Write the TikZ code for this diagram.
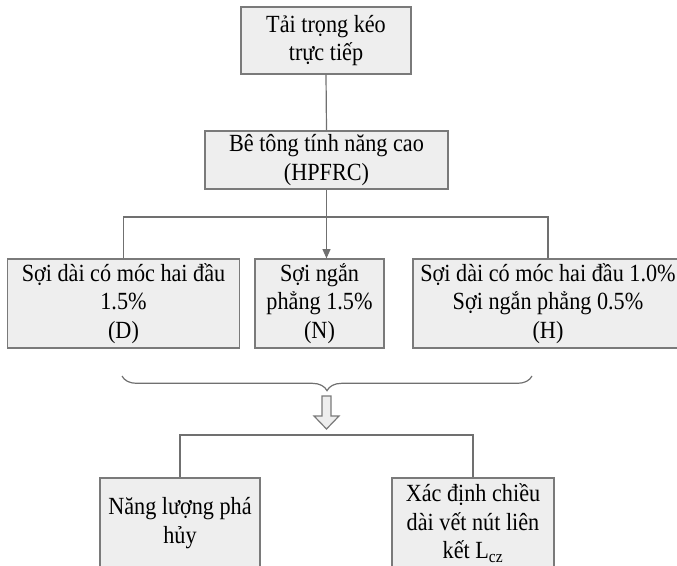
\documentclass[tikz,border=0pt]{standalone}
\usepackage{fontspec}
\setmainfont[FakeStretch=0.9]{Liberation Serif}
\usetikzlibrary{decorations.pathreplacing,arrows.meta}
\definecolor{boxfill}{HTML}{EEEEEE}
\definecolor{boxline}{HTML}{7A7A7A}
\definecolor{linecol}{HTML}{707070}
\begin{document}
\begin{tikzpicture}[x=0.75pt,y=-0.75pt,
  box/.style={draw=boxline, fill=boxfill, line width=0.9pt, align=center,
    inner sep=0pt, font=\fontsize{18.5}{21.5}\selectfont, text=black},
  conn/.style={draw=linecol, line width=0.9pt},
  arr/.style={conn, -{Triangle[width=6pt,length=7pt]}}]
\useasboundingbox (0,0) rectangle (677,566);
\clip (0,0) rectangle (677,566);

\node[box, minimum width=170*0.75pt, minimum height=67*0.75pt] (top) at (326,40.5) {Tải trọng kéo\\trực tiếp};
\node[box, minimum width=243*0.75pt, minimum height=58*0.75pt] (mid) at (326.5,160) {Bê tông tính năng cao\\(HPFRC)};
\node[box, minimum width=232*0.75pt, minimum height=89*0.75pt] (D) at (123.5,303.5) {Sợi dài có móc hai đầu\\1.5\%\\(D)};
\node[box, minimum width=129*0.75pt, minimum height=89*0.75pt] (N) at (319.5,303.5) {Sợi ngắn\\phẳng 1.5\%\\(N)};
\node[box, minimum width=270*0.75pt, minimum height=89*0.75pt] (H) at (548,303.5) {Sợi dài có móc hai đầu 1.0\%\\Sợi ngắn phẳng 0.5\%\\(H)};
\node[box, minimum width=160*0.75pt, minimum height=90*0.75pt] (BL) at (180,523) {Năng lượng phá\\hủy};
\node[box, minimum width=162*0.75pt, minimum height=90*0.75pt] (BR) at (473,523) {Xác định chiều\\dài vết nút liên\\kết L\textsubscript{cz}};

\coordinate (j) at (326.5,217);
\coordinate (k) at (326.5,435);
\coordinate (bl) at (122,376);
\coordinate (br) at (532,376);

\draw[conn] (top.south) -- (mid.north);
\draw[conn] (D.north) -- (D.north |- j) -- (H.north |- j) -- (H.north);
\draw[arr] (mid.south) -- (mid.south |- N.north);
\draw[conn, decorate, decoration={brace, mirror, amplitude=11pt}] (bl) -- (br);
\draw[draw=boxline, fill=boxfill, line width=0.9pt, line join=miter]
  (322,396) -- (331,396) -- (331,416) -- (339,416) -- (326.5,429) -- (314,416) -- (322,416) -- cycle;
\draw[conn] (BL.north) -- (BL.north |- k) -- (BR.north |- k) -- (BR.north);
\end{tikzpicture}
\end{document}
